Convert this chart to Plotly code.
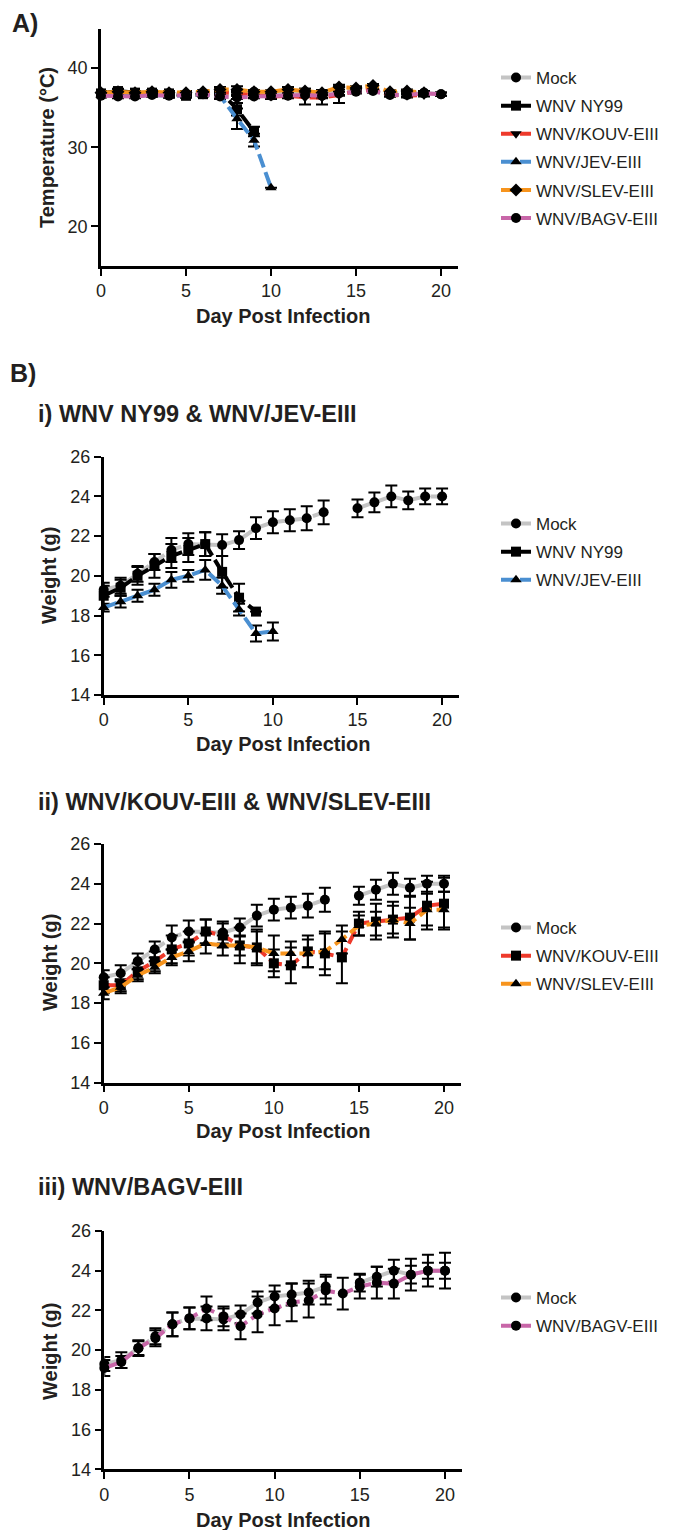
import plotly.graph_objects as go

W, H = 678, 1530

# ---------------- data ----------------
days = list(range(21))

# Panel A: temperature (°C)
temp_mock = [36.8, 36.7, 36.5, 36.8, 36.7, 36.7, 36.9, 36.8, 36.9, 37.0, 36.7, 36.9, 36.9, 36.7, 37.1, 37.3, 37.4, 36.8, 36.9, 36.9, 36.7]
temp_mock_err = [0.2, 0.2, 0.2, 0.2, 0.2, 0.2, 0.2, 0.3, 0.3, 0.2, 0.3, 0.3, 0.5, 0.5, 0.6, 0.2, 0.2, 0.2, 0.2, 0.2, 0.2]
temp_ny99 = [36.8, 37.1, 36.9, 36.9, 36.8, 36.5, 36.7, 37.1, 34.8, 32.0]
temp_ny99_err = [0.2, 0.3, 0.2, 0.2, 0.2, 0.2, 0.2, 0.3, 0.8, 0.6]
temp_kouv = [36.7, 36.6, 36.6, 36.7, 36.7, 36.8, 36.8, 37.0, 36.8, 36.5, 36.4, 36.5, 36.3, 36.3, 36.6, 37.1, 37.3, 36.6, 36.5, 36.6]
temp_kouv_err = [0.2, 0.2, 0.2, 0.2, 0.2, 0.2, 0.2, 0.3, 0.3, 0.2, 0.3, 0.3, 0.9, 0.9, 1.0, 0.2, 0.2, 0.2, 0.2, 0.2]
temp_jev = [36.6, 36.5, 36.5, 36.6, 36.5, 36.5, 36.7, 36.5, 33.6, 30.9, 24.9]
temp_jev_err = [0.2, 0.2, 0.2, 0.2, 0.2, 0.2, 0.3, 0.4, 1.3, 0.8, None]
temp_slev = [36.9, 37.0, 36.9, 37.0, 36.9, 36.9, 37.0, 37.3, 37.3, 37.0, 37.0, 37.3, 37.1, 36.9, 37.6, 37.5, 37.8, 37.0, 37.1, 36.9]
temp_slev_err = [0.2, 0.2, 0.2, 0.2, 0.2, 0.2, 0.2, 0.3, 0.4, 0.2, 0.2, 0.3, 0.3, 0.3, 0.3, 0.2, 0.2, 0.2, 0.2, 0.2]
temp_bagv = [36.5, 36.4, 36.4, 36.6, 36.5, 36.6, 36.7, 36.4, 36.3, 36.4, 36.5, 36.5, 36.6, 36.5, 36.8, 37.0, 37.1, 36.6, 36.6, 36.8, 36.7]
temp_bagv_err = [0.2] * 21

# Panel B: weight (g)
w_mock = [19.3, 19.5, 20.1, 20.7, 21.3, 21.6, 21.6, 21.55, 21.8, 22.4, 22.7, 22.8, 22.9, 23.2, None, 23.4, 23.7, 24.0, 23.8, 24.0, 24.0]
w_mock_err = [0.35, 0.4, 0.4, 0.4, 0.6, 0.55, 0.6, 0.55, 0.45, 0.55, 0.55, 0.55, 0.6, 0.6, None, 0.45, 0.5, 0.55, 0.45, 0.4, 0.4]
w_ny99 = [19.0, 19.4, 20.0, 20.5, 21.0, 21.3, 21.6, 20.2, 18.9, 18.2]
w_ny99_err = [0.5, 0.4, 0.45, 0.6, 0.6, 0.6, 0.6, 0.8, 0.7, None]
w_jev = [18.4, 18.7, 19.0, 19.3, 19.8, 20.0, 20.3, 19.5, 18.3, 17.1, 17.2]
w_jev_err = [0.2, 0.3, 0.3, 0.3, 0.4, 0.3, 0.5, 0.4, 0.3, 0.4, 0.45]
w_kouv = [18.9, 18.9, 19.6, 20.1, 20.7, 21.0, 21.6, 21.4, 20.9, 20.8, 20.0, 19.9, 20.6, 20.5, 20.3, 22.0, 22.1, 22.2, 22.3, 22.9, 23.0]
w_kouv_err = [0.4, 0.3, 0.4, 0.5, 0.7, 0.6, 0.6, 0.6, 0.9, 0.8, 0.7, 0.9, 0.8, 1.1, 1.3, 0.6, 0.9, 0.9, 1.1, 1.2, 1.3]
w_slev = [18.5, 18.8, 19.4, 19.8, 20.3, 20.6, 21.0, 20.9, 20.9, 20.8, 20.5, 20.5, 20.5, 20.6, 21.2, 21.9, 22.0, 22.2, 22.0, 22.7, 22.7]
w_slev_err = [0.3, 0.3, 0.3, 0.3, 0.4, 0.5, 0.5, 0.5, 0.5, 0.9, 0.9, 0.6, 0.7, 0.9, 0.7, 0.5, 0.6, 0.7, 0.8, 0.8, 0.9]
w_bagv = [19.1, 19.4, 20.1, 20.6, 21.3, 21.6, 22.1, 21.7, 21.2, 21.8, 22.1, 22.4, 22.5, 23.0, 22.85, 23.2, 23.4, 23.35, 23.8, 24.0, 24.0]
w_bagv_err = [0.4, 0.3, 0.35, 0.4, 0.6, 0.55, 0.6, 0.5, 0.65, 0.9, 0.85, 0.95, 0.85, 0.7, 0.8, 0.6, 0.8, 0.75, 0.8, 0.8, 0.9]

x_ticks = [0, 5, 10, 15, 20]
temp_ticks = [20, 30, 40]
weight_ticks = [14, 16, 18, 20, 22, 24, 26]

# ---------------- styles ----------------
C_MOCK = "#c4c4c4"
C_NY99 = "#000000"
C_KOUV = "#ee3a2b"
C_JEV = "#4a8fd1"
C_SLEV = "#f7941d"
C_BAGV = "#c866a8"
TXT = "#231f20"
FONT = "Liberation Sans, Arial, Helvetica, sans-serif"
DASH = "14px,5px"


def px(x):
    return x / W


def py(y):
    return 1 - y / H


fig = go.Figure()
_counter = [0]


def add(xa, ya, leg, name, y, err, color, symbol):
    n = len(y)
    _counter[0] += 1
    fig.add_trace(go.Scatter(
        x=days[:n], y=y, name=name, mode="lines+markers",
        xaxis=xa, yaxis=ya, legend=leg, legendgroup="g%02d" % _counter[0],
        line=dict(color=color, width=4, dash=DASH),
        marker=dict(color="black", size=10, symbol=symbol),
        error_y=dict(type="data", array=err, color="black", thickness=2, width=6, visible=True),
        cliponaxis=False, connectgaps=False,
    ))


# Panel A
add("x", "y", "legend", "Mock", temp_mock, temp_mock_err, C_MOCK, "circle")
add("x", "y", "legend", "WNV NY99", temp_ny99, temp_ny99_err, C_NY99, "square")
add("x", "y", "legend", "WNV/KOUV-EIII", temp_kouv, temp_kouv_err, C_KOUV, "triangle-down")
add("x", "y", "legend", "WNV/JEV-EIII", temp_jev, temp_jev_err, C_JEV, "triangle-up")
add("x", "y", "legend", "WNV/SLEV-EIII", temp_slev, temp_slev_err, C_SLEV, "diamond")
add("x", "y", "legend", "WNV/BAGV-EIII", temp_bagv, temp_bagv_err, C_BAGV, "circle")

# Panel B i
add("x2", "y2", "legend2", "Mock", w_mock, w_mock_err, C_MOCK, "circle")
add("x2", "y2", "legend2", "WNV NY99", w_ny99, w_ny99_err, C_NY99, "square")
add("x2", "y2", "legend2", "WNV/JEV-EIII", w_jev, w_jev_err, C_JEV, "triangle-up")

# Panel B ii
add("x3", "y3", "legend3", "Mock", w_mock, w_mock_err, C_MOCK, "circle")
add("x3", "y3", "legend3", "WNV/KOUV-EIII", w_kouv, w_kouv_err, C_KOUV, "square")
add("x3", "y3", "legend3", "WNV/SLEV-EIII", w_slev, w_slev_err, C_SLEV, "triangle-up")

# Panel B iii
add("x4", "y4", "legend4", "Mock", w_mock, w_mock_err, C_MOCK, "circle")
add("x4", "y4", "legend4", "WNV/BAGV-EIII", w_bagv, w_bagv_err, C_BAGV, "circle")

axis_common = dict(showline=True, linewidth=2.5, linecolor="black", ticks="outside",
                   ticklen=7, tickwidth=2, tickcolor="black", showgrid=False, zeroline=False,
                   automargin=False,
                   tickfont=dict(family=FONT, size=18, color=TXT))

# pixel boxes: (left, right, top, bottom)
boxes = {
    "1": (101, 458, 28.5, 266),
    "2": (103.7, 459, 456.7, 695),
    "3": (103.7, 461, 844, 1082.7),
    "4": (104.3, 462, 1231, 1469.3),
}

layout = dict(width=W, height=H, margin=dict(l=0, r=0, t=0, b=0, autoexpand=False),
              paper_bgcolor="white", plot_bgcolor="white",
              font=dict(family=FONT, color=TXT))
for k, (l, r, t, b) in boxes.items():
    xs = "xaxis" if k == "1" else "xaxis" + k
    ys = "yaxis" if k == "1" else "yaxis" + k
    anchor_y = "y" if k == "1" else "y" + k
    anchor_x = "x" if k == "1" else "x" + k
    layout[xs] = dict(axis_common, domain=[px(l), px(r)], range=[0, 21], tickvals=x_ticks,
                      anchor=anchor_y)
    if k == "1":
        layout[ys] = dict(axis_common, domain=[py(b), py(t)], range=[15, 45], tickvals=temp_ticks,
                          anchor=anchor_x)
    else:
        layout[ys] = dict(axis_common, domain=[py(b), py(t)], range=[14, 26], tickvals=weight_ticks,
                          anchor=anchor_x)

leg_common = dict(font=dict(family=FONT, size=17, color=TXT), bgcolor="rgba(0,0,0,0)",
                  xanchor="left", yanchor="top", traceorder="grouped", itemwidth=30,
                  tracegroupgap=3)
layout["legend"] = dict(leg_common, x=px(496), y=py(60))
layout["legend2"] = dict(leg_common, x=px(496), y=py(506))
layout["legend3"] = dict(leg_common, x=px(496), y=py(910))
layout["legend4"] = dict(leg_common, x=px(496), y=py(1280))

fig.update_layout(**layout)


def text(x, y, s, size, bold=True, xanchor="left", angle=0):
    fig.add_annotation(x=px(x), y=py(y), xref="paper", yref="paper", text=("<b>%s</b>" % s) if bold else s,
                       showarrow=False, xanchor=xanchor, yanchor="middle", textangle=angle,
                       font=dict(family=FONT, size=size, color=TXT))


text(10, 23, "A)", 25)
text(8, 373, "B)", 25)
text(36, 414, "i) WNV NY99 &amp; WNV/JEV-EIII", 23.5)
text(36, 802, "ii) WNV/KOUV-EIII &amp; WNV/SLEV-EIII", 23.5)
text(36, 1187, "iii) WNV/BAGV-EIII", 23.5)

text(47, 148, "Temperature (°C)", 20, xanchor="center", angle=-90)
text(49, 576, "Weight (g)", 20, xanchor="center", angle=-90)
text(50, 963, "Weight (g)", 20, xanchor="center", angle=-90)
text(50, 1352, "Weight (g)", 20, xanchor="center", angle=-90)

text(283, 316, "Day Post Infection", 20, xanchor="center")
text(283, 744, "Day Post Infection", 20, xanchor="center")
text(283, 1131, "Day Post Infection", 20, xanchor="center")
text(283, 1520, "Day Post Infection", 20, xanchor="center")

fig.write_html("out.html", post_script="document.body.style.margin='0';document.body.style.overflow='hidden';")
